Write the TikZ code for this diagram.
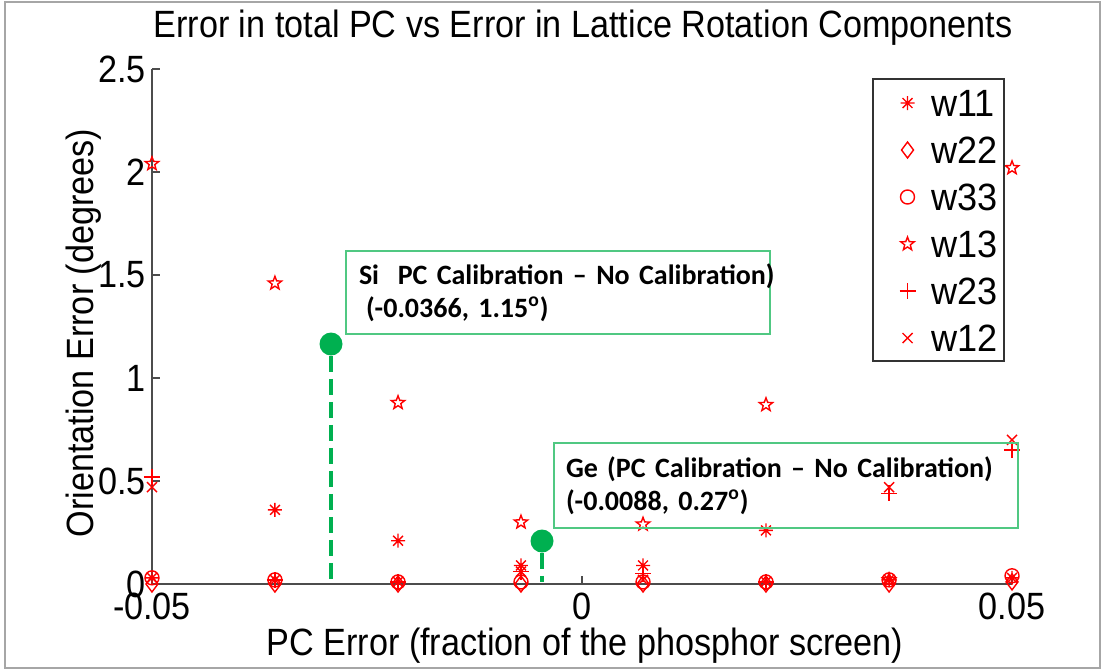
\documentclass[tikz,border=0pt]{standalone}
\usepackage{fontspec}
\usepackage{graphicx}
\setmainfont{Liberation Sans}
\newfontfamily\notefont{Carlito}
\usetikzlibrary{plotmarks}

\definecolor{calgreen}{RGB}{0,176,80}
\definecolor{notegreen}{RGB}{80,200,130}
\definecolor{markred}{RGB}{255,0,0}
\newcommand{\narrow}[1]{\scalebox{0.9}[1]{#1}}

% matlab style marks
\pgfdeclareplotmark{pentagram}{%
  \pgfpathmoveto{\pgfpointpolar{90}{\pgfplotmarksize}}%
  \pgfpathlineto{\pgfpointpolar{126}{0.42\pgfplotmarksize}}%
  \pgfpathlineto{\pgfpointpolar{162}{\pgfplotmarksize}}%
  \pgfpathlineto{\pgfpointpolar{198}{0.42\pgfplotmarksize}}%
  \pgfpathlineto{\pgfpointpolar{234}{\pgfplotmarksize}}%
  \pgfpathlineto{\pgfpointpolar{270}{0.42\pgfplotmarksize}}%
  \pgfpathlineto{\pgfpointpolar{306}{\pgfplotmarksize}}%
  \pgfpathlineto{\pgfpointpolar{342}{0.42\pgfplotmarksize}}%
  \pgfpathlineto{\pgfpointpolar{18}{\pgfplotmarksize}}%
  \pgfpathlineto{\pgfpointpolar{54}{0.42\pgfplotmarksize}}%
  \pgfpathclose
  \pgfusepathqstroke
}
\pgfdeclareplotmark{mlasterisk}{%
  \pgfpathmoveto{\pgfqpoint{0pt}{\pgfplotmarksize}}%
  \pgfpathlineto{\pgfqpoint{0pt}{-\pgfplotmarksize}}%
  \pgfpathmoveto{\pgfqpoint{-\pgfplotmarksize}{0pt}}%
  \pgfpathlineto{\pgfqpoint{\pgfplotmarksize}{0pt}}%
  \pgfpathmoveto{\pgfqpoint{-.7\pgfplotmarksize}{-.7\pgfplotmarksize}}%
  \pgfpathlineto{\pgfqpoint{.7\pgfplotmarksize}{.7\pgfplotmarksize}}%
  \pgfpathmoveto{\pgfqpoint{-.7\pgfplotmarksize}{.7\pgfplotmarksize}}%
  \pgfpathlineto{\pgfqpoint{.7\pgfplotmarksize}{-.7\pgfplotmarksize}}%
  \pgfusepathqstroke
}
\pgfdeclareplotmark{mlplus}{%
  \pgfpathmoveto{\pgfqpoint{0pt}{\pgfplotmarksize}}%
  \pgfpathlineto{\pgfqpoint{0pt}{-\pgfplotmarksize}}%
  \pgfpathmoveto{\pgfqpoint{-\pgfplotmarksize}{0pt}}%
  \pgfpathlineto{\pgfqpoint{\pgfplotmarksize}{0pt}}%
  \pgfusepathqstroke
}
\pgfdeclareplotmark{mlcross}{%
  \pgfpathmoveto{\pgfqpoint{-\pgfplotmarksize}{-\pgfplotmarksize}}%
  \pgfpathlineto{\pgfqpoint{\pgfplotmarksize}{\pgfplotmarksize}}%
  \pgfpathmoveto{\pgfqpoint{-\pgfplotmarksize}{\pgfplotmarksize}}%
  \pgfpathlineto{\pgfqpoint{\pgfplotmarksize}{-\pgfplotmarksize}}%
  \pgfusepathqstroke
}

\begin{document}
\begin{tikzpicture}[
    x=0.5pt, y=-0.5pt,
    lbl/.style={font=\fontsize{19}{22}\selectfont, inner sep=0pt},
    axisline/.style={draw=black!70, line width=0.75pt},
    legbox/.style={draw=black!80, line width=0.75pt, minimum width=65.5pt, minimum height=141pt, inner sep=0pt},
    note/.style={draw=notegreen, line width=1pt, align=left, anchor=north west, inner xsep=6.5pt,
        font=\notefont\bfseries\fontsize{14}{16.5}\selectfont},
    dot/.style={circle, fill=calgreen, inner sep=0pt, minimum size=11.5pt},
    guide/.style={draw=calgreen, line width=1.75pt, dash pattern=on 8pt off 3.5pt},
    pts/.style={draw=markred, line width=0.7pt}
]
\useasboundingbox (0,0) rectangle (1104,670);
\draw[black!35, line width=0.6pt] (5,2) rectangle (1100,668);

% axes
\coordinate (org) at (152,584);
\coordinate (ytop) at (152,69);
\coordinate (xend) at (1012,584);
\draw[axisline] (ytop) -- (org) -- (xend);

\foreach \v [count=\i from 0] in {0,0.5,1,1.5,2,2.5} {
  \pgfmathsetmacro\ty{584-206*\v}
  \draw[axisline] (152,\ty) -- ++(8,0);
  \node[lbl, anchor=east] (yt\i) at (146,\ty) {\narrow{\v}};
}
\foreach \v/\x [count=\i] in {-0.05/152, 0/582, 0.05/1012} {
  \draw[axisline] (\x,584) -- ++(0,-8);
  \node[lbl, anchor=north] (xt\i) at (\x,593) {\narrow{\v}};
}

\node[lbl] (title) at (583,28) {\narrow{Error in total PC vs Error in Lattice Rotation Components}};
\node[lbl, rotate=90] (ylabel) at (84,333) {\narrow{Orientation Error (degrees)}};
\node[lbl] (xlabel) at (585,646) {\narrow{PC Error (fraction of the phosphor screen)}};

% data
\begin{scope}[shift={(582,584)}, x=4300pt, y=103pt]
\draw[pts] plot[only marks, mark=mlasterisk, mark size=3.5pt] coordinates {
  (-0.05,0.03) (-0.0357,0.36) (-0.0214,0.21) (-0.0071,0.09)
  (0.0071,0.09) (0.0214,0.26) (0.0357,0.02) (0.05,0.03)};
\draw[pts] plot[only marks, mark=diamond, mark size=4pt] coordinates {
  (-0.05,0) (-0.0357,0) (-0.0214,0) (-0.0071,0)
  (0.0071,0) (0.0214,0) (0.0357,0) (0.05,0.01)};
\draw[pts] plot[only marks, mark=o, mark size=3.5pt] coordinates {
  (-0.05,0.03) (-0.0357,0.02) (-0.0214,0.01) (-0.0071,0.01)
  (0.0071,0.01) (0.0214,0.01) (0.0357,0.02) (0.05,0.04)};
\draw[pts] plot[only marks, mark=pentagram, mark size=3.5pt] coordinates {
  (-0.05,2.04) (-0.0357,1.46) (-0.0214,0.88) (-0.0071,0.30)
  (0.0071,0.29) (0.0214,0.87) (0.0357,0.02) (0.05,2.02)};
\draw[pts] plot[only marks, mark=mlplus, mark size=4pt] coordinates {
  (-0.05,0.52) (-0.0357,0.02) (-0.0214,0.01) (-0.0071,0.06)
  (0.0071,0.05) (0.0214,0.01) (0.0357,0.44) (0.05,0.65)};
\draw[pts] plot[only marks, mark=mlcross, mark size=2.5pt] coordinates {
  (-0.05,0.47) (-0.0357,0.02) (-0.0214,0.01) (-0.0071,0.06)
  (0.0071,0.02) (0.0214,0.01) (0.0357,0.47) (0.05,0.70)};
\end{scope}

% legend
\node[legbox, anchor=north west] (legend) at (872,78) {};
\foreach \m/\t/\s [count=\i from 0] in {mlasterisk/w11/3.5pt, diamond/w22/4pt, o/w33/3.5pt, pentagram/w13/3.5pt, mlplus/w23/4pt, mlcross/w12/2.5pt} {
  \pgfmathsetmacro\ly{103+47*\i}
  \draw[pts] plot[only marks, mark=\m, mark size=\s] coordinates {(907.5,\ly)};
  \node[lbl, anchor=west] (leg\i) at (931,\ly) {\scalebox{0.95}[1]{\t}};
}

% calibration points
\node[dot] (sidot) at (331,344) {};
\coordinate (sifoot) at (331,582);
\draw[guide] (sidot.south) -- (sifoot);
\node[dot] (gedot) at (542,541) {};
\coordinate (gefoot) at (542,582);
\draw[guide] (gedot.south) -- (gefoot);

\node[note, minimum width=212pt, minimum height=41.5pt, text width=199pt] (sinote) at (345,250)
  {\mbox{Si\ \ PC Calibration – No Calibration)}\\\hspace*{0.25em}(-0.0366, 1.15\textsuperscript{o})};
\node[note, minimum width=232pt, minimum height=42.5pt, text width=220pt, inner xsep=6pt] (genote) at (553,442)
  {\mbox{Ge (PC Calibration – No Calibration)}\\(-0.0088, 0.27\textsuperscript{o})};
\end{tikzpicture}
\end{document}
